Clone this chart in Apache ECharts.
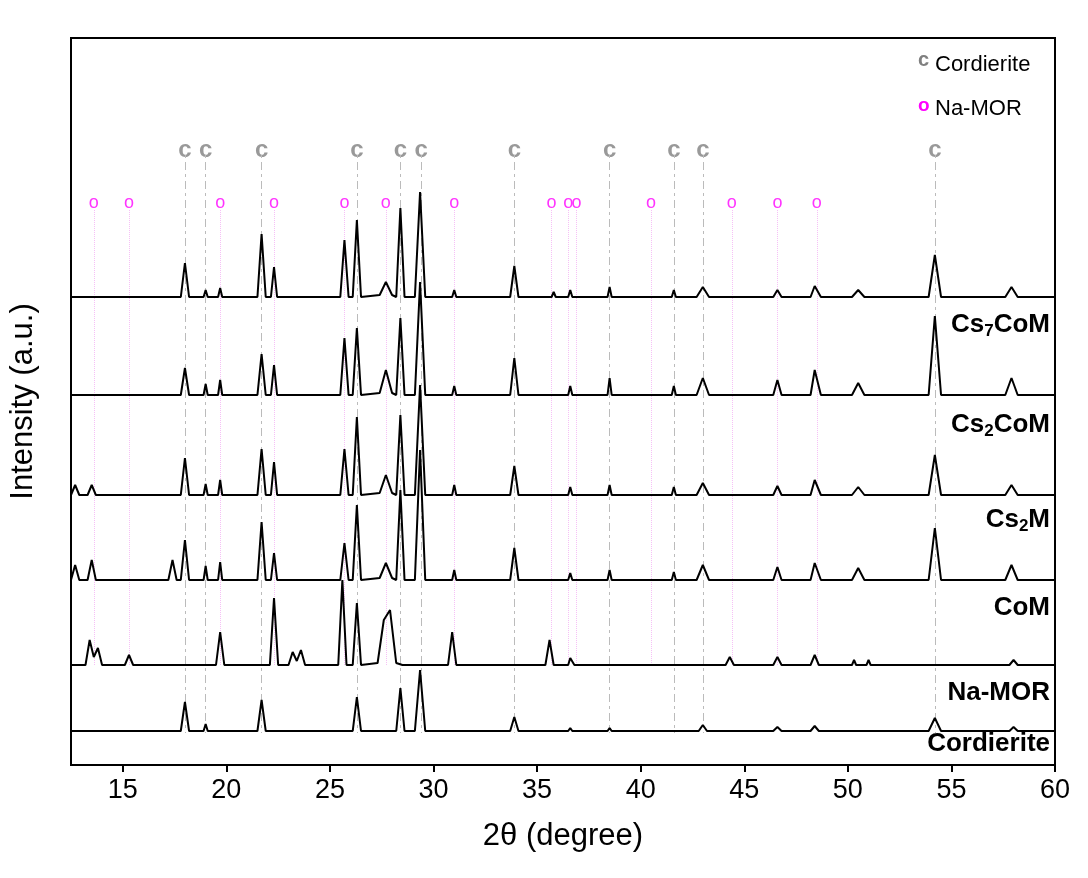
<!DOCTYPE html>
<html>
<head>
<meta charset="utf-8">
<title>XRD</title>
<script src="https://cdn.jsdelivr.net/npm/echarts@6/dist/echarts.min.js"></script>
<style>body{margin:0;background:#fff}#c{width:1088px;height:878px}</style>
</head>
<body>
<div id="c"></div>
<script>
// hand-read points [2theta, offset intensity]
var cs7CoM = [[12.5,468],[17.8,468],[18.0,502],[18.2,468],[18.9,468],[19.0,475],[19.1,468],[19.6,468],[19.7,477],[19.8,468],
  [21.5,468],[21.7,531],[21.9,468],[22.15,468],[22.3,498],[22.45,468],[25.5,468],[25.7,525],[25.9,468],[26.1,468],[26.3,545],[26.5,468],
  [27.4,470],[27.7,483],[28.0,470],[28.2,468],[28.4,557],[28.6,468],[29.1,468],[29.35,573],[29.6,468],[30.9,468],[31.0,475],[31.1,468],
  [33.7,468],[33.9,499],[34.1,468],[35.7,468],[35.8,473],[35.9,468],[36.5,468],[36.6,475],[36.7,468],[38.4,468],[38.5,478],[38.6,468],
  [41.5,468],[41.6,475],[41.7,468],[42.7,468],[43.0,478],[43.3,468],[46.4,468],[46.6,475],[46.8,468],[48.2,468],[48.4,479],[48.7,468],
  [50.2,468],[50.5,475],[50.8,468],[53.9,468],[54.2,510],[54.5,468],[57.6,468],[57.9,478],[58.2,468],[60,468]];
var cs2CoM = [[12.5,370],[17.8,370],[18.0,397],[18.2,370],[18.9,370],[19.0,381],[19.1,370],[19.6,370],[19.7,385],[19.8,370],
  [21.5,370],[21.7,411],[21.9,370],[22.15,370],[22.3,400],[22.45,370],[25.5,370],[25.7,427],[25.9,370],[26.1,370],[26.3,437],[26.5,370],
  [27.4,372],[27.7,395],[28.0,372],[28.2,370],[28.4,447],[28.6,370],[29.1,370],[29.35,483],[29.6,370],[30.9,370],[31.0,379],[31.1,370],
  [33.7,370],[33.9,407],[34.1,370],[36.5,370],[36.6,379],[36.7,370],[38.4,370],[38.5,387],[38.6,370],
  [41.5,370],[41.6,379],[41.7,370],[42.7,370],[43.0,387],[43.3,370],[46.4,370],[46.6,385],[46.8,370],[48.2,370],[48.4,395],[48.7,370],
  [50.2,370],[50.5,382],[50.8,370],[53.9,370],[54.2,449],[54.5,370],[57.6,370],[57.9,387],[58.2,370],[60,370]];
var cs2M = [[12.5,270],[12.7,280],[12.9,270],[13.3,270],[13.5,280],[13.7,270],[17.8,270],[18.0,307],[18.2,270],[18.9,270],[19.0,281],[19.1,270],[19.6,270],[19.7,285],[19.8,270],
  [21.5,270],[21.7,316],[21.9,270],[22.15,270],[22.3,303],[22.45,270],[25.5,270],[25.7,316],[25.9,270],[26.1,270],[26.3,348],[26.5,270],
  [27.4,272],[27.7,290],[28.0,272],[28.2,270],[28.4,350],[28.6,270],[29.1,270],[29.35,380],[29.6,270],[30.9,270],[31.0,280],[31.1,270],
  [33.7,270],[33.9,299],[34.1,270],[36.5,270],[36.6,278],[36.7,270],[38.4,270],[38.5,280],[38.6,270],
  [41.5,270],[41.6,278],[41.7,270],[42.7,270],[43.0,282],[43.3,270],[46.4,270],[46.6,279],[46.8,270],[48.2,270],[48.4,285],[48.7,270],
  [50.2,270],[50.5,278],[50.8,270],[53.9,270],[54.2,310],[54.5,270],[57.6,270],[57.9,280],[58.2,270],[60,270]];
var coM = [[12.5,185],[12.7,200],[12.9,185],[13.3,185],[13.5,205],[13.7,185],[17.2,185],[17.4,205],[17.6,185],[17.8,185],[18.0,225],[18.2,185],[18.9,185],[19.0,199],[19.1,185],[19.6,185],[19.7,203],[19.8,185],
  [21.5,185],[21.7,243],[21.9,185],[22.15,185],[22.3,212],[22.45,185],[25.5,185],[25.7,222],[25.9,185],[26.1,185],[26.3,260],[26.5,185],
  [27.4,187],[27.7,202],[28.0,187],[28.2,185],[28.4,275],[28.6,185],[29.1,185],[29.35,315],[29.6,185],[30.9,185],[31.0,195],[31.1,185],
  [33.7,185],[33.9,217],[34.1,185],[36.5,185],[36.6,192],[36.7,185],[38.4,185],[38.5,195],[38.6,185],
  [41.5,185],[41.6,193],[41.7,185],[42.7,185],[43.0,200],[43.3,185],[46.4,185],[46.6,198],[46.8,185],[48.2,185],[48.4,202],[48.7,185],
  [50.2,185],[50.5,197],[50.8,185],[53.9,185],[54.2,237],[54.5,185],[57.6,185],[57.9,200],[58.2,185],[60,185]];
var naMOR = [[12.5,100],[13.2,100],[13.4,125],[13.6,108],[13.8,117],[14.0,100],[15.1,100],[15.3,110],[15.5,100],[19.5,100],[19.7,133],[19.9,100],
  [22.1,100],[22.3,167],[22.5,100],[23.0,100],[23.2,113],[23.4,104],[23.6,115],[23.8,100],[25.4,100],[25.6,185],[25.8,100],[26.1,100],[26.3,162],[26.5,100],
  [27.3,102],[27.6,145],[27.9,155],[28.2,102],[28.5,100],[30.7,100],[30.9,133],[31.1,100],[35.4,100],[35.6,125],[35.8,100],[36.5,100],[36.6,107],[36.8,100],
  [44.1,100],[44.3,108],[44.5,100],[46.4,100],[46.6,108],[46.8,100],[48.2,100],[48.4,110],[48.6,100],[50.2,100],[50.3,105],[50.4,100],[50.9,100],[51.0,105],[51.1,100],
  [57.8,100],[58.0,105],[58.2,100],[60,100]];
var cordierite = [[12.5,34],[17.8,34],[18.0,63],[18.2,34],[18.9,34],[19.0,41],[19.1,34],[21.5,34],[21.7,65],[21.9,34],
  [26.1,34],[26.3,68],[26.5,34],[28.2,34],[28.4,77],[28.6,34],[29.1,34],[29.35,95],[29.6,34],[33.7,34],[33.9,48],[34.1,34],
  [36.5,34],[36.6,37],[36.7,34],[38.4,34],[38.5,37],[38.6,34],[42.8,34],[43.0,40],[43.2,34],[46.4,34],[46.6,38],[46.8,34],
  [48.2,34],[48.4,39],[48.6,34],[53.9,34],[54.2,47],[54.5,34],[57.8,34],[58.0,38],[58.2,34],[60,34]];

var cPos = [18.0, 19.0, 21.7, 26.3, 28.4, 29.4, 33.9, 38.5, 41.6, 43.0, 54.2];
var oPos = [13.6, 15.3, 19.7, 22.3, 25.7, 27.7, 31.0, 35.7, 36.5, 36.9, 40.5, 44.4, 46.6, 48.5];
var xTicks = [15, 20, 25, 30, 35, 40, 45, 50, 55, 60];

var chart = echarts.init(document.getElementById('c'));
function trace(d) {
  return {type: 'line', data: d, showSymbol: false, lineStyle: {color: '#000', width: 2}, z: 5, silent: true};
}
var cVLines = cPos.map(function (x) { return [{coord: [x, 610]}, {coord: [x, 32]}]; });
var oVLines = oPos.map(function (x) { return [{coord: [x, 555]}, {coord: [x, 100]}]; });
var series = [cs7CoM, cs2CoM, cs2M, coM, naMOR, cordierite].map(trace);
series.push({
  type: 'scatter', symbolSize: 0, data: cPos.map(function (x) { return [x, 615]; }),
  label: {show: true, formatter: 'c', color: '#808080', fontSize: 24, fontWeight: 'bold', position: 'inside'},
  markLine: {silent: true, symbol: 'none', label: {show: false}, lineStyle: {color: '#bbb', type: [3, 4, 8, 4], width: 1}, data: cVLines}
});
series.push({
  type: 'scatter', symbolSize: 0, data: oPos.map(function (x) { return [x, 562]; }),
  label: {show: true, formatter: 'o', color: '#ff00ff', fontSize: 18, position: 'inside'},
  markLine: {silent: true, symbol: 'none', label: {show: false}, lineStyle: {color: '#f6c0f6', type: 'dotted', width: 1}, data: oVLines}
});

var sampleLabels = [
  {t: '{b|Cs}{s|7}{b|CoM}', y: 312},
  {t: '{b|Cs}{s|2}{b|CoM}', y: 412},
  {t: '{b|Cs}{s|2}{b|M}', y: 507},
  {t: '{b|CoM}', y: 595},
  {t: '{b|Na-MOR}', y: 680},
  {t: '{b|Cordierite}', y: 731}
];
var rich = {b: {fontSize: 26, fontWeight: 'bold', fontFamily: 'Liberation Sans', color: '#000'},
  s: {fontSize: 17, fontWeight: 'bold', fontFamily: 'Liberation Sans', verticalAlign: 'bottom', padding: [12, 0, 0, 0], color: '#000'}};
var graphics = sampleLabels.map(function (l) {
  return {type: 'text', right: 38, top: l.y, style: {text: l.t, rich: rich}};
});
graphics.push({type: 'text', left: 918, top: 50, style: {text: 'c', fill: '#808080', font: 'bold 20px Liberation Sans'}});
graphics.push({type: 'text', left: 935, top: 54, style: {text: 'Cordierite', fill: '#000', font: '22px Liberation Sans'}});
graphics.push({type: 'text', left: 918, top: 96, style: {text: 'o', fill: '#ff00ff', font: 'bold 19px Liberation Sans'}});
graphics.push({type: 'text', left: 935, top: 98, style: {text: 'Na-MOR', fill: '#000', font: '22px Liberation Sans'}});

chart.setOption({
  animation: false,
  textStyle: {fontFamily: 'Liberation Sans'},
  grid: {left: 70, right: 33, top: 38, bottom: 113, show: true, borderColor: '#000', borderWidth: 2},
  xAxis: {
    type: 'value', min: 12.5, max: 60,
    name: '2θ (degree)', nameLocation: 'middle', nameGap: 56,
    nameTextStyle: {fontSize: 31, color: '#000'},
    axisLine: {lineStyle: {color: '#000', width: 2}},
    axisTick: {customValues: xTicks, length: 7, lineStyle: {color: '#000', width: 2}},
    axisLabel: {customValues: xTicks, fontSize: 27, color: '#000', margin: 12},
    splitLine: {show: false}
  },
  yAxis: {
    type: 'value', min: 0, max: 727,
    name: 'Intensity (a.u.)', nameLocation: 'middle', nameGap: 32,
    nameTextStyle: {fontSize: 31, color: '#000'},
    axisLine: {show: true, lineStyle: {color: '#000', width: 2}},
    axisTick: {show: false}, axisLabel: {show: false}, splitLine: {show: false}
  },
  series: series,
  graphic: graphics
});
</script>
</body>
</html>
